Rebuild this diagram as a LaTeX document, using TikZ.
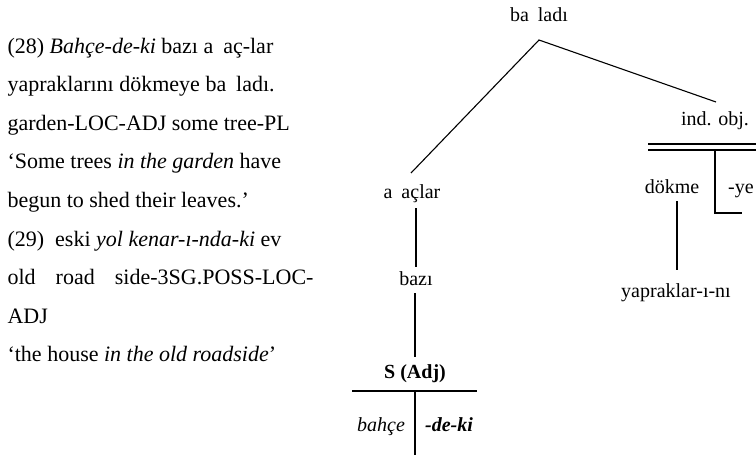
\documentclass[tikz,border=0pt]{standalone}
\usepackage{fontspec}
\setmainfont{Liberation Serif}
\begin{document}
\begin{tikzpicture}[x=1pt,y=-1pt, line width=1.1pt,
  lt/.style={font=\fontsize{22}{26}\selectfont, anchor=base west, inner sep=0pt},
  tr/.style={font=\fontsize{20}{24}\selectfont, anchor=base, inner sep=0pt},
  thickline/.style={line width=1.8pt}]
\useasboundingbox (0,0) rectangle (756,455);
% left text
\node[lt] (l1) at (7,53) {(28) \textit{Bahçe-de-ki} bazı a\hspace{0.45em}aç-lar};
\node[lt] (l2) at (7,91.6) {yapraklarını dökmeye ba\hspace{0.45em}ladı.};
\node[lt] (l3) at (7,130.2) {garden-LOC-ADJ some tree-PL};
\node[lt] (l4) at (7,168.8) {‘Some trees \textit{in the garden} have};
\node[lt] (l5) at (7,207.4) {begun to shed their leaves.’};
\node[lt] (l6) at (7,246) {(29)\ \ eski \textit{yol kenar-ı-nda-ki} ev};
\node[lt] (l7) at (7,284.6) {\hbox to 306pt{old\hfill road\hfill side-3SG.POSS-LOC-}};
\node[lt] (l8) at (7,323.2) {ADJ};
\node[lt] (l9) at (7,361.8) {‘the house \textit{in the old roadside}’};
% tree
\node[tr] (root) at (539,21.5) {ba\hspace{0.45em}ladı};
\coordinate (apex) at (539,40);
\coordinate (rEnd) at (716,102);
\coordinate (lEnd) at (411,173);
\draw (lEnd) -- (apex) -- (rEnd);
\node[tr] (acl) at (412,198) {a\hspace{0.45em}açlar};
\coordinate (a1) at (416,208);
\coordinate (a2) at (416,267);
\draw (a1) -- (a2);
\node[tr] (bazi) at (416,285) {bazı};
\coordinate (b1) at (415,293);
\coordinate (b2) at (415,357);
\draw (b1) -- (b2);
\node[tr] (sadj) at (415,378.5) {\textbf{S (Adj)}};
\coordinate (h1) at (352,391);
\coordinate (h2) at (477,391);
\draw[thickline] (h1) -- (h2);
\coordinate (sv1) at (415,391);
\coordinate (sv2) at (415,455);
\draw (sv1) -- (sv2);
\node[tr] (bahce) at (381,431) {\textit{bahçe}};
\node[tr] (deki) at (449,431) {\textbf{\textit{-de-ki}}};
% right subtree
\node[tr] (ind) at (715,125) {ind. obj.};
\coordinate (d1) at (648,144);
\coordinate (d2) at (756,144);
\coordinate (d3) at (648,150);
\coordinate (d4) at (756,150);
\draw (d1) -- (d2);
\draw (d3) -- (d4);
\coordinate (k1) at (715,150);
\coordinate (k2) at (715,213);
\coordinate (k3) at (742,213);
\draw (k1) -- (k2) -- (k3);
\node[tr] (dokme) at (672,193) {dökme};
\node[tr] (ye) at (741,193) {-ye};
\coordinate (y1) at (677,201);
\coordinate (y2) at (677,270);
\draw (y1) -- (y2);
\node[tr] (yap) at (676,297) {yapraklar-ı-nı};
\end{tikzpicture}
\end{document}
